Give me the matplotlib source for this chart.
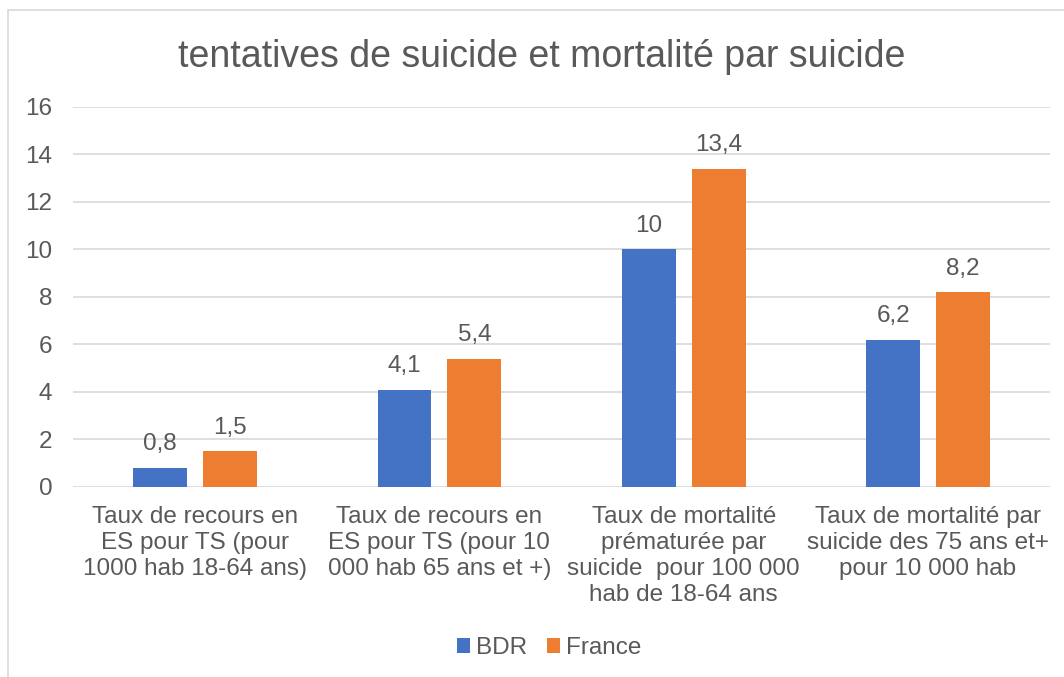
import matplotlib.pyplot as plt
import numpy as np
from matplotlib.patches import Rectangle

plt.rcParams['font.family'] = ['Liberation Sans', 'DejaVu Sans']

categories = ['Taux de recours en\nES pour TS (pour\n1000 hab 18-64 ans)',
              'Taux de recours en\nES pour TS (pour 10\n000 hab 65 ans et +)',
              'Taux de mortalité\nprématurée par\nsuicide  pour 100 000\nhab de 18-64 ans',
              'Taux de mortalité par\nsuicide des 75 ans et+\npour 10 000 hab']
bdr = [0.8, 4.1, 10, 6.2]
france = [1.5, 5.4, 13.4, 8.2]
labels_bdr = ['0,8', '4,1', '10', '6,2']
labels_france = ['1,5', '5,4', '13,4', '8,2']

txt = '#595959'
blue = '#4472C4'
orange = '#ED7D31'
fs = 17.5

fig = plt.figure(figsize=(10.64, 6.77), dpi=100)
ax = fig.add_axes([0.0686, 0.2807, 0.9184, 0.5613])

# chart frame (cropped on the right and bottom)
fig.patches.append(Rectangle((8 / 1064, -0.1), 1.2, 1 - 10 / 677 + 0.1,
                             transform=fig.transFigure, fill=False,
                             edgecolor='#D9D9D9', linewidth=1.2))

x = np.arange(len(categories))
w = 0.22
off = 0.143
b1 = ax.bar(x - off, bdr, w, color=blue, label='BDR', zorder=3)
b2 = ax.bar(x + off, france, w, color=orange, label='France', zorder=3)

for bars, labs in [(b1, labels_bdr), (b2, labels_france)]:
    for r, lab in zip(bars, labs):
        ax.annotate(lab, (r.get_x() + r.get_width() / 2, r.get_height()),
                    xytext=(0, 9), textcoords='offset points',
                    ha='center', va='bottom', fontsize=fs, color=txt)

ax.set_xlim(-0.5, 3.5)
ax.set_ylim(0, 16)
ax.set_yticks(range(0, 17, 2))
ax.yaxis.grid(True, color='#D9D9D9', linewidth=1.2, zorder=0)
ax.set_axisbelow(True)
for s in ax.spines.values():
    s.set_visible(False)
ax.tick_params(axis='both', length=0, labelsize=fs, labelcolor=txt)
ax.tick_params(axis='y', pad=15)
ax.set_xticks(x)
ax.set_xticklabels(categories, linespacing=1.22)
ax.tick_params(axis='x', pad=14)

fig.text(0.509, 1 - 57 / 677, 'tentatives de suicide et mortalité par suicide',
         ha='center', va='center', fontsize=27, color=txt)

fig.legend(loc='center', bbox_to_anchor=(0.516, 1 - 648 / 677), ncol=2,
           frameon=False, fontsize=fs, labelcolor=txt, handlelength=0.55,
           handleheight=0.55, handletextpad=0.25, columnspacing=0.8)

fig.savefig('out.png', dpi=100)
